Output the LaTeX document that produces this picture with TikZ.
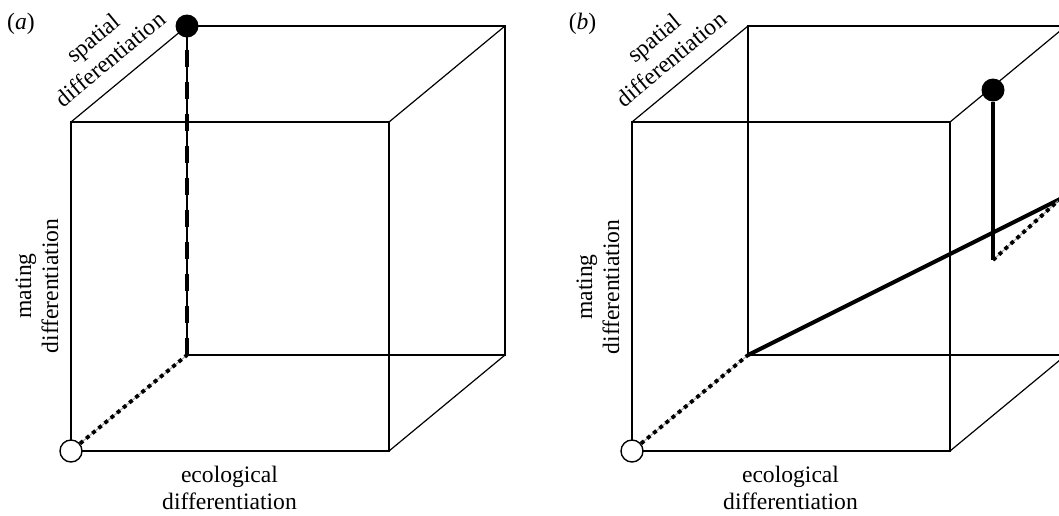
\documentclass[tikz,border=0pt]{standalone}
\usepackage{fontspec}
\setmainfont{Liberation Serif}
\usepackage{tikz}
\usetikzlibrary{positioning, calc}

\begin{document}
\begin{tikzpicture}[x=0.5pt, y=-0.5pt,
        font=\fontsize{11.8}{13.5}\selectfont,
        edge/.style     = {draw=black, line width=0.6pt},
        dotline/.style  = {draw=black, line width=1.9pt, dash pattern=on 2pt off 2pt,
                           preaction={draw=gray!70, line width=0.5pt, solid}},
        dashline/.style = {draw=black, line width=1.9pt, dash pattern=on 8.5pt off 7.5pt,
                           preaction={draw=black, line width=0.6pt, solid}},
        thickline/.style= {draw=black, line width=2pt},
        origin/.style   = {circle, draw=black, fill=white, line width=0.7pt, minimum size=11pt, inner sep=0pt},
        ball/.style     = {circle, fill=black, minimum size=11.5pt, inner sep=0pt},
        axis_label/.style = {align=center, inner sep=0pt}
    ]

    \clip (0,0) rectangle (1059,515);

    % --- PANEL (a) ---
    \coordinate (fa1) at (71,451);  \coordinate (fa2) at (389,451);
    \coordinate (fa3) at (389,122); \coordinate (fa4) at (71,122);
    \coordinate (ba1) at (187,355); \coordinate (ba2) at (505,355);
    \coordinate (ba3) at (505,26);  \coordinate (ba4) at (187,26);

    \draw[edge] (fa1) -- (fa2) -- (fa3) -- (fa4) -- cycle;
    \draw[edge] (ba1) -- (ba2) -- (ba3) -- (ba4) -- cycle;
    \draw[edge] (fa2) -- (ba2) (fa3) -- (ba3) (fa4) -- (ba4);

    \node[origin] (orig_a) at (fa1) {};
    \node[ball]   (ball_a) at (ba4) {};

    \draw[dotline]  (orig_a) -- (ba1);
    \draw[dashline] (ba1) -- (ball_a);

    \node (tag_a) at (21,24) {(\textit{a})};
    \node[axis_label, rotate=39.6] (spat_a) at (101.5,48.5) {spatial\\differentiation};
    \node[axis_label, rotate=90]   (mate_a) at (37,286) {mating\\differentiation};
    \node[axis_label]              (ecol_a) at (229.5,487.5) {ecological\\differentiation};

    % --- PANEL (b) ---
    \coordinate (fb1) at (632,451);  \coordinate (fb2) at (950,451);
    \coordinate (fb3) at (950,122);  \coordinate (fb4) at (632,122);
    \coordinate (bb1) at (748,355);  \coordinate (bb2) at (1066,355);
    \coordinate (bb3) at (1066,26);  \coordinate (bb4) at (748,26);

    \draw[edge] (fb1) -- (fb2) -- (fb3) -- (fb4) -- cycle;
    \draw[edge] (bb1) -- (bb2) -- (bb3) -- (bb4) -- cycle;
    \draw[edge] (fb2) -- (bb2) (fb3) -- (bb3) (fb4) -- (bb4);

    \node[origin] (orig_b) at (fb1) {};
    \node[ball]   (ball_b) at (993,90) {};
    \coordinate (foot_b) at (993,260);
    \coordinate (end_b)  at (1060,199);

    \draw[dotline]   (orig_b) -- (bb1);
    \draw[thickline] (bb1) -- (end_b);
    \draw[thickline] (ball_b) -- (foot_b);
    \draw[dotline]   (foot_b) -- (end_b);

    \node (tag_b) at (582.5,24) {(\textit{b})};
    \node[axis_label, rotate=39.6] (spat_b) at (662.5,48.5) {spatial\\differentiation};
    \node[axis_label, rotate=90]   (mate_b) at (598,287) {mating\\differentiation};
    \node[axis_label]              (ecol_b) at (790.5,487.5) {ecological\\differentiation};

\end{tikzpicture}
\end{document}
